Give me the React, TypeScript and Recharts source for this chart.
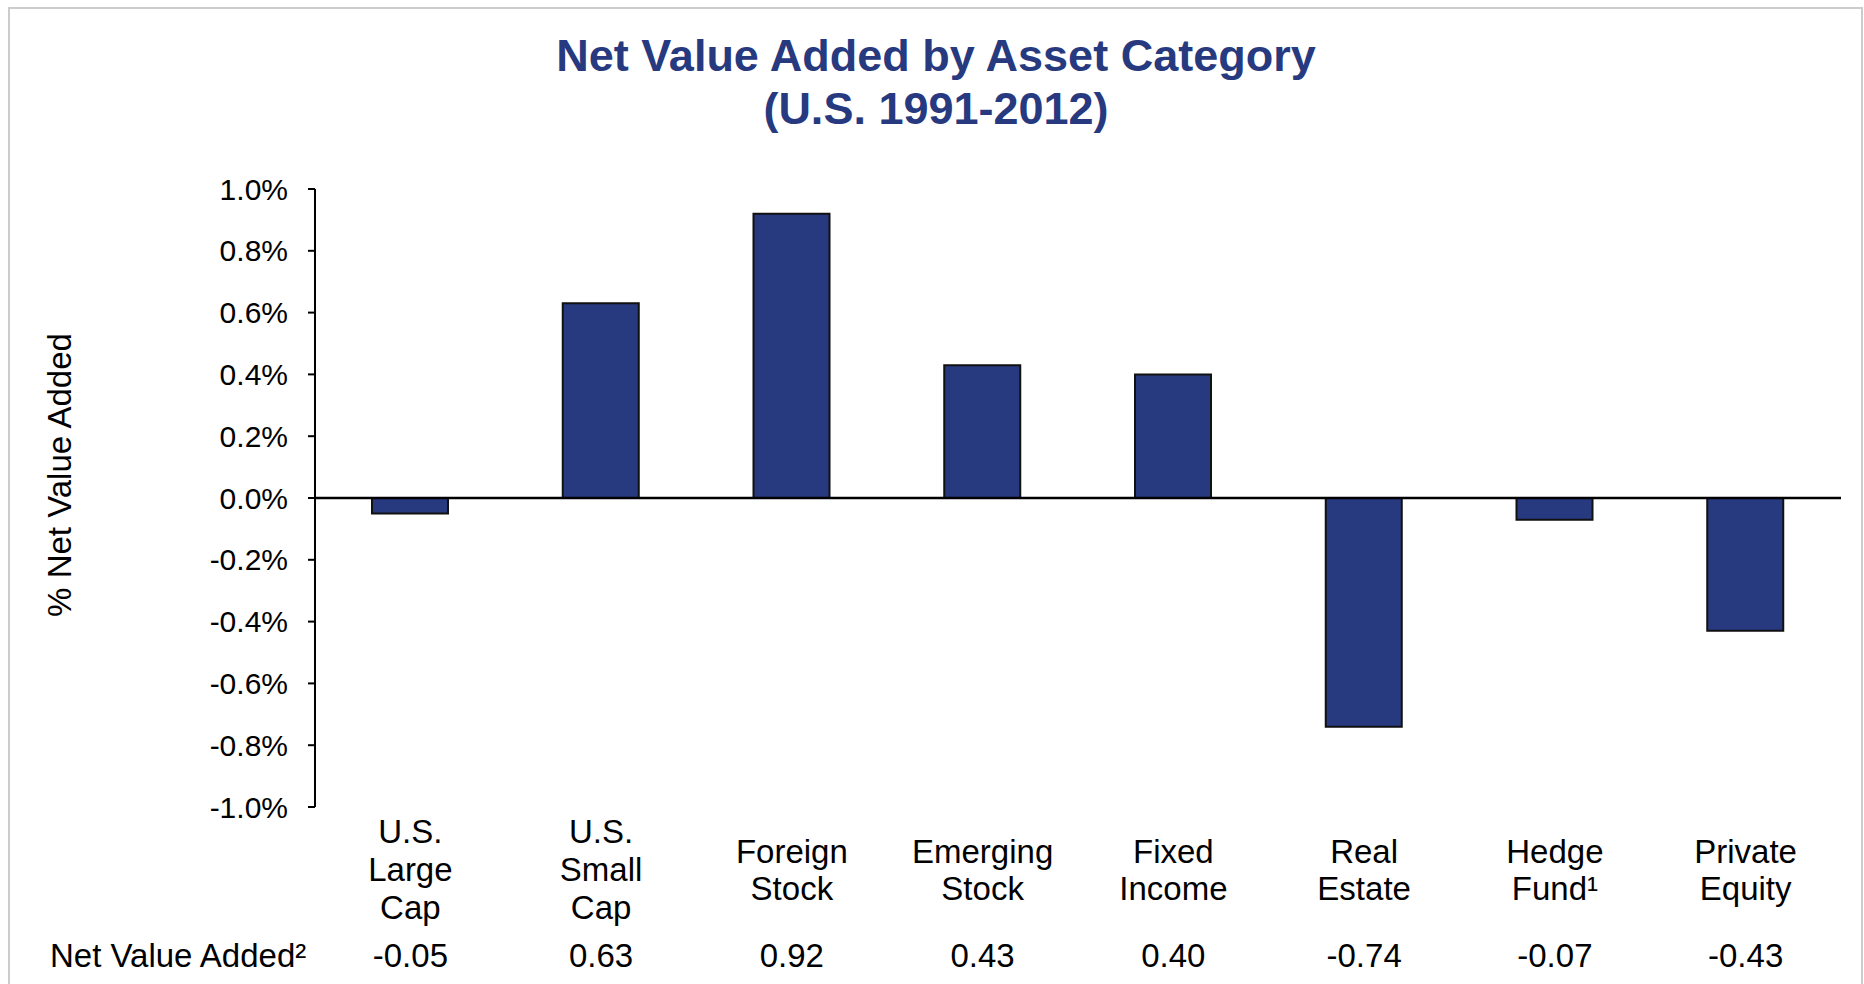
import React from 'react';
import { BarChart, Bar, XAxis, YAxis, ReferenceLine } from 'recharts';

const categories: string[][] = [
  ['U.S.', 'Large', 'Cap'],
  ['U.S.', 'Small', 'Cap'],
  ['Foreign', 'Stock'],
  ['Emerging', 'Stock'],
  ['Fixed', 'Income'],
  ['Real', 'Estate'],
  ['Hedge', 'Fund¹'],
  ['Private', 'Equity'],
];
const netValueAdded: number[] = [-0.05, 0.63, 0.92, 0.43, 0.4, -0.74, -0.07, -0.43];
const yTicks: number[] = [-1.0, -0.8, -0.6, -0.4, -0.2, 0.0, 0.2, 0.4, 0.6, 0.8, 1.0];
const titleLines: string[] = ['Net Value Added by Asset Category', '(U.S. 1991-2012)'];
const yAxisTitle = '% Net Value Added';
const rowTitle = 'Net Value Added²';

const data = categories.map((c, i) => ({ name: c.join(' '), lines: c, value: netValueAdded[i] }));

const FONT = '"Liberation Sans", Arial, Helvetica, sans-serif';
const NAVY = '#273A80';

const XTick = (props: any) => {
  const { x, y, index } = props;
  const d = data[index];
  if (!d) return null;
  const lines = d.lines;
  const offsets = lines.length === 3 ? [24, 62, 100] : [44, 81];
  return (
    <g>
      {lines.map((l: string, i: number) => (
        <text key={i} x={x} y={y + offsets[i]} textAnchor="middle" dominantBaseline="central"
          fontSize={33} fontFamily={FONT} fill="#000">{l}</text>
      ))}
      <text x={x} y={y + 148} textAnchor="middle" dominantBaseline="central"
        fontSize={33} fontFamily={FONT} fill="#000">{d.value.toFixed(2)}</text>
      {index === 0 && (
        <text x={50} y={y + 148} textAnchor="start" dominantBaseline="central"
          fontSize={33} fontFamily={FONT} fill="#000">{rowTitle}</text>
      )}
    </g>
  );
};

const YLabel = () => (
  <text x={59} y={475} transform="rotate(-90, 59, 475)" textAnchor="middle" dominantBaseline="central"
    fontSize={33} fontFamily={FONT} fill="#000">{yAxisTitle}</text>
);

export default function App() {
  return (
    <div style={{ position: 'fixed', left: 0, top: 0, width: 1864, height: 984, overflow: 'hidden', background: '#fff' }}>
      <div style={{ position: 'absolute', left: 8, top: 7, width: 1855, height: 1010, border: '2px solid #cccccc', boxSizing: 'border-box' }} />
      <div style={{ position: 'absolute', left: 436, top: 29, width: 1000, textAlign: 'center', fontFamily: FONT, fontWeight: 'bold', fontSize: 45, lineHeight: '53px', color: NAVY }}>
        {titleLines.map((t, i) => <div key={i}>{t}</div>)}
      </div>
      <div style={{ position: 'absolute', left: 0, top: 0 }}>
        <BarChart width={1864} height={984} data={data} margin={{ top: 189, right: 23, bottom: 0, left: 0 }} barSize={76}>
          <XAxis dataKey="name" axisLine={false} tickLine={false} tickSize={0} tickMargin={0} height={177}
            interval={0} tick={<XTick />} />
          <YAxis width={315} domain={[-1, 1]} ticks={yTicks} interval={0}
            tickFormatter={(v: number) => `${v.toFixed(1)}%`}
            axisLine={{ stroke: '#000', strokeWidth: 2 }} tickLine={{ stroke: '#000', strokeWidth: 2 }}
            tickSize={7} tickMargin={20}
            tick={{ fontSize: 30, fontFamily: FONT, fill: '#000' }}
            label={<YLabel />} />
          <Bar dataKey="value" fill={NAVY} stroke="#111" strokeWidth={2} isAnimationActive={false} />
          <ReferenceLine y={0} stroke="#000" strokeWidth={2.5} ifOverflow="extendDomain" />
        </BarChart>
      </div>
    </div>
  );
}
